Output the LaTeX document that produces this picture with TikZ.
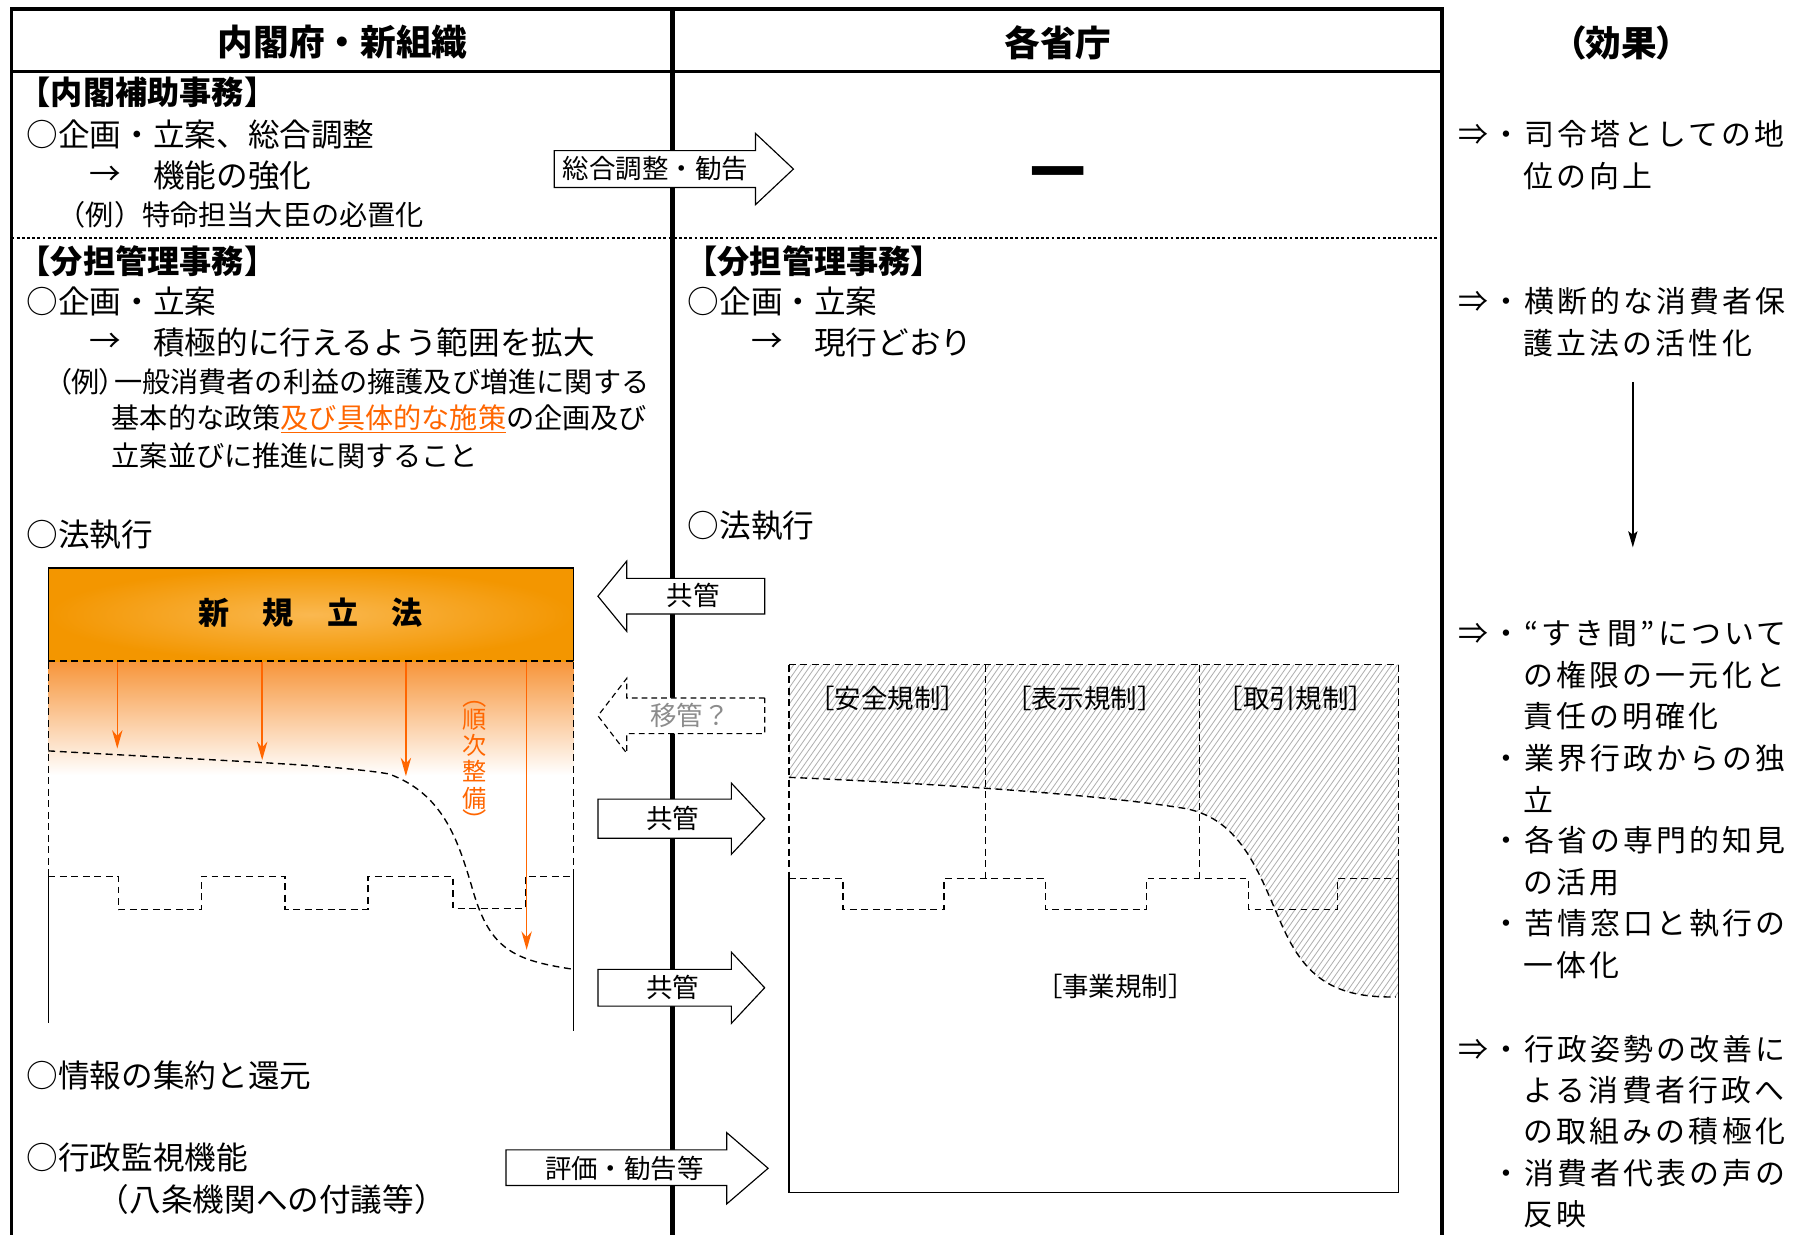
\documentclass[tikz,border=0pt]{standalone}
\usepackage{fontspec}
\setmainfont{Noto Sans CJK JP}
\newfontfamily\efffont{Noto Sans CJK JP}[LetterSpace=10.5]
\usetikzlibrary{arrows.meta}
\definecolor{ortx}{RGB}{255,102,0}
\definecolor{boxout}{RGB}{243,150,0}
\definecolor{boxin}{RGB}{250,184,80}
\definecolor{fadetop}{RGB}{247,150,60}
\definecolor{hatchc}{RGB}{175,175,175}
\definecolor{graytx}{RGB}{140,140,140}
\newcommand\fs[1]{\fontsize{#1}{#1}\selectfont}
\newcommand\pl[1]{{\addfontfeature{RawFeature=+palt}#1}}
\begin{document}
\begin{tikzpicture}[x=1pt,y=-1pt,
  txt/.style={inner sep=0, anchor=west, font=\fs{27.5}},
  hd/.style={inner sep=0, font=\bfseries\fs{31}},
  sec/.style={inner sep=0, anchor=west, font=\bfseries\fs{28}},
  ex/.style={inner sep=0, anchor=west, font=\fs{24.5}},
  eff/.style={inner sep=0, anchor=west, font=\efffont\fs{26}},
  lab/.style={inner sep=0, font=\fs{23}},
  reg/.style={inner sep=0, font=\fs{23}},
  frameline/.style={line width=3pt, line join=miter},
  dsh/.style={dash pattern=on 6pt off 4pt, line width=1.2pt},
  barrow/.style={draw, fill=white, line width=1pt, line join=miter},
  orarr/.style={draw=ortx, line width=1.3pt, -{Stealth[length=16pt,width=9pt,inset=5pt]}},
  hatch/.style={draw=hatchc, line width=0.7pt}]
\useasboundingbox (0,0) rectangle (1568,1074);
\fill[white] (0,0) rectangle (1568,1074);

% frame
\draw[frameline] (10,1074) -- (10,8) -- (1254,8) -- (1254,1074);
\draw[frameline] (10,62) -- (1254,62);
\draw[line width=4pt] (585,8) -- (585,1074);
\draw[dash pattern=on 2.5pt off 2pt, line width=1.1pt] (10,207) -- (1254,207);

% headers
\node[hd] (h1) at (298,37) {内閣府・新組織};
\node[hd] (h2) at (920,37) {各省庁};
\node[hd] (h3) at (1410,37) {\pl{（}効果\pl{）}};

% left column texts
\node[sec] (l1) at (16,80) {【内閣補助事務】};
\node[txt] (l2) at (23,117) {○企画・立案、総合調整};
\node[txt] (l3a) at (78,153) {→};
\node[txt] (l3) at (133,153) {機能の強化};
\node[ex] (l4) at (50,187) {（例）特命担当大臣の必置化};
\node[sec] (l5) at (16,227) {【分担管理事務】};
\node[txt] (l6) at (23,262) {○企画・立案};
\node[txt] (l7a) at (78,298) {→};
\node[txt] (l7) at (133,298) {積極的に行えるよう範囲を拡大};
\node[ex] (l8) at (50,332) {\pl{（}例\pl{）}一般消費者の利益の擁護及び増進に関する};
\node[ex] (l9) at (97,364) {基本的な政策{\color{ortx}\underline{及び具体的な施策}}の企画及び};
\node[ex] (l10) at (97,396) {立案並びに推進に関すること};
\node[txt] (l11) at (23,465) {○法執行};
\node[txt] (l12) at (23,935) {○情報の集約と還元};
\node[txt] (l13) at (23,1007) {○行政監視機能};
\node[txt] (l14) at (85,1043) {（八条機関への付議等）};

% right column texts
\node[inner sep=0, font=\bfseries\fs{48}] (r0) at (920,156) {一};
\node[sec] (r1) at (596,227) {【分担管理事務】};
\node[txt] (r2) at (598,262) {○企画・立案};
\node[txt] (r3a) at (653,298) {→};
\node[txt] (r3) at (708,298) {現行どおり};
\node[txt] (r4) at (598,457) {○法執行};

% new law box
\shade[inner color=boxin, outer color=boxout] (42,494) rectangle (499,575);
\draw[line width=1pt] (42,575) -- (42,494) -- (499,494) -- (499,575);
\node[inner sep=0, font=\bfseries\fs{27}] (nl) at (270,533) {新\hspace{29pt}規\hspace{29pt}立\hspace{29pt}法};
\shade[top color=fadetop, bottom color=white] (42,576) rectangle (499,674);
\draw[dsh] (42,575) -- (499,575);
\draw[dsh] (42,576) -- (42,762);
\draw[dsh] (499,576) -- (499,762);
\draw[dsh] (42,762) -- (103,762) -- (103,791) -- (175,791) -- (175,762) -- (248,762) -- (248,791) -- (320,791) -- (320,762) -- (394,762) -- (394,790) -- (457,790) -- (457,762) -- (499,762);
\draw[line width=1.2pt] (42,762) -- (42,890);
\draw[line width=1.2pt] (499,762) -- (499,897);
\draw[dsh] (42,653) .. controls (200,662) and (290,665) .. (338,673) .. controls (385,690) and (398,730) .. (410,770) .. controls (425,825) and (445,835) .. (499,843);

\coordinate (o1s) at (102,576); \coordinate (o1e) at (102,651);
\coordinate (o2s) at (228,576); \coordinate (o2e) at (228,661);
\coordinate (o3s) at (353,576); \coordinate (o3e) at (353,675);
\coordinate (o4s) at (458,576); \coordinate (o4e) at (458,826);
\draw[orarr] (o1s) -- (o1e);
\draw[orarr] (o2s) -- (o2e);
\draw[orarr] (o3s) -- (o3e);
\draw[orarr] (o4s) -- (o4e);
\node[inner sep=0, text=ortx, font=\fontsize{21}{23}\selectfont, align=center] (jz) at (413,660) {順\\次\\整\\備};
\node[inner sep=0, text=ortx, font=\fs{21}, rotate=-90] (jzo) at (413,606) {（};
\node[inner sep=0, text=ortx, font=\fs{21}, rotate=-90] (jzc) at (413,714) {）};

% right regulation area
\begin{scope}
\clip (686,578) -- (1216,578) -- (1216,867) -- (1214,867) .. controls (1160,868) and (1135,850) .. (1115,805) .. controls (1095,760) and (1080,712) .. (1030,703) .. controls (950,690) and (800,681) .. (686,676) -- cycle;
\foreach \i in {440,445,...,1230} { \draw[hatch] (\i,900) -- (\i+238,560); }
\end{scope}
\draw[dsh] (686,578) -- (1216,578);
\draw[dsh] (686,578) -- (686,764);
\draw[dsh] (1216,578) -- (1216,750);
\draw[dsh] (857,578) -- (857,764);
\draw[dsh] (1043,578) -- (1043,764);
\draw[dsh] (686,764) -- (733,764) -- (733,791) -- (821,791) -- (821,764) -- (909,764) -- (909,791) -- (997,791) -- (997,764) -- (1086,764) -- (1086,791) -- (1163,791) -- (1163,764) -- (1216,764);
\draw[line width=1.2pt] (686,764) -- (686,1037) -- (1216,1037) -- (1216,750);
\draw[dsh] (686,676) .. controls (800,681) and (950,690) .. (1030,703) .. controls (1080,712) and (1095,760) .. (1115,805) .. controls (1135,850) and (1160,868) .. (1214,867);
\node[reg] (g1) at (772,607) {［安全規制］};
\node[reg] (g2) at (943,607) {［表示規制］};
\node[reg] (g3) at (1127,607) {［取引規制］};
\node[reg] (g4) at (970,858) {［事業規制］};

% block arrows
\draw[barrow] (482,131) -- (657,131) -- (657,116) -- (690,147) -- (657,178) -- (657,163) -- (482,163) -- cycle;
\node[lab] (a1) at (570,147) {総合調整・勧告};
\draw[barrow] (665,503) -- (545,503) -- (545,488) -- (520,518.5) -- (545,549) -- (545,534) -- (665,534) -- cycle;
\node[lab] (a2) at (603,518) {共管};
\draw[barrow, dash pattern=on 5pt off 3.5pt] (665,607) -- (545,607) -- (545,590) -- (520,622.5) -- (545,655) -- (545,638) -- (665,638) -- cycle;
\node[lab, text=graytx] (a3) at (600,622) {移管？};
\draw[barrow] (520,695) -- (636,695) -- (636,681) -- (665,712) -- (636,743) -- (636,729) -- (520,729) -- cycle;
\node[lab] (a4) at (585,712) {共管};
\draw[barrow] (520,843) -- (636,843) -- (636,828) -- (665,859) -- (636,890) -- (636,875) -- (520,875) -- cycle;
\node[lab] (a5) at (585,859) {共管};
\draw[barrow] (440,1000) -- (632,1000) -- (632,985) -- (668,1016) -- (632,1047) -- (632,1031) -- (440,1031) -- cycle;
\node[lab] (a6) at (543,1016) {評価・勧告等};

% effects column
\node[eff] (e1) at (1268,117) {⇒・司令塔としての地};
\node[eff] (e2) at (1325,153) {位の向上};
\node[eff] (e3) at (1268,262) {⇒・横断的な消費者保};
\node[eff] (e4) at (1325,298) {護立法の活性化};
\node[eff] (e5) at (1268,551) {⇒・“すき間”について};
\node[eff] (e6) at (1325,587) {の権限の一元化と};
\node[eff] (e7) at (1325,623) {責任の明確化};
\node[eff] (e8) at (1297,659) {・業界行政からの独};
\node[eff] (e9) at (1325,695) {立};
\node[eff] (e10) at (1297,731) {・各省の専門的知見};
\node[eff] (e11) at (1325,767) {の活用};
\node[eff] (e12) at (1297,803) {・苦情窓口と執行の};
\node[eff] (e13) at (1325,839) {一体化};
\node[eff] (e14) at (1268,912) {⇒・行政姿勢の改善に};
\node[eff] (e15) at (1325,948) {よる消費者行政へ};
\node[eff] (e16) at (1325,984) {の取組みの積極化};
\node[eff] (e17) at (1297,1020) {・消費者代表の声の};
\node[eff] (e18) at (1325,1056) {反映};
\coordinate (d1) at (1420,332);
\coordinate (d2) at (1420,476);
\draw[line width=1.2pt, -{Stealth[length=14pt,width=8pt,inset=3pt]}] (d1) -- (d2);
\end{tikzpicture}
\end{document}
